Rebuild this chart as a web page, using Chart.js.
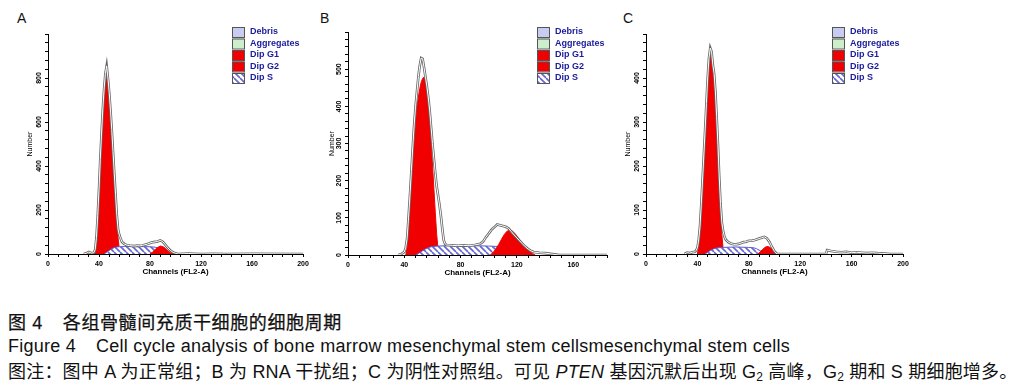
<!DOCTYPE html>
<html>
<head>
<meta charset="utf-8">
<script src="https://cdn.jsdelivr.net/npm/chart.js@4.4.1/dist/chart.umd.min.js"></script>
<style>
  body { margin: 0; background: #fff; width: 1020px; height: 391px; position: relative; overflow: hidden; font-family: "Liberation Sans", Arial, sans-serif; }
  canvas { position: absolute; top: 0; }
  .letter { position: absolute; top: 10px; font-size: 14px; line-height: 16px; color: #111; }
  .cap { position: absolute; left: 8px; font-size: 18px; line-height: 20px; white-space: nowrap; color: #111; font-family: "Liberation Sans", "Noto Sans CJK SC", sans-serif; }
  .gap { display: inline-block; width: 20px; }
  sub { font-size: 12px; vertical-align: -3px; line-height: 0; }
</style>
</head>
<body>
<div class="letter" style="left:17px">A</div>
<div class="letter" style="left:320px">B</div>
<div class="letter" style="left:623px">C</div>
<canvas id="chartA" width="320" height="290" style="left:0px"></canvas>
<canvas id="chartB" width="320" height="290" style="left:300px"></canvas>
<canvas id="chartC" width="320" height="290" style="left:600px"></canvas>
<div class="cap" style="top:313px; letter-spacing:0.6px; -webkit-text-stroke:0.25px #111">图 4<span class="gap"></span>各组骨髓间充质干细胞的细胞周期</div>
<div class="cap" style="top:336px; letter-spacing:0.25px">Figure 4<span class="gap"></span>Cell cycle analysis of bone marrow mesenchymal stem cellsmesenchymal stem cells</div>
<div class="cap" style="top:362px; letter-spacing:0.2px">图注：图中 A 为正常组；B 为 RNA 干扰组；C 为阴性对照组。可见 <i>PTEN</i> 基因沉默后出现 G<sub>2</sub> 高峰，G<sub>2</sub> 期和 S 期细胞增多。</div>
<script>
// Legend entries (ModFit style)
const legendLabels = ['Debris', 'Aggregates', 'Dip G1', 'Dip G2', 'Dip S'];
const legendFills = ['#c8ccf0', '#cdeecb', '#f00000', '#f00000', 'hatch'];

// Panel A: channel / count pairs
const aTotal = [[28,0],[30,3],[32,9],[34,4],[36,6],[37,20],[38,75],[39,175],[40,295],[41,430],[42,550],[43,660],[44,750],[45,820],[46,855],[47,800],[48,735],[49,655],[50,565],[51,465],[52,365],[53,270],[54,175],[55,110],[56,85],[57,70],[58,55],[60,45],[62,40],[64,38],[66,37],[68,36],[70,38],[72,37],[74,39],[76,42],[78,45],[80,50],[82,53],[84,55],[86,57],[88,62],[90,56],[92,42],[94,28],[96,16],[98,8],[100,3],[102,0],[110,2],[120,0],[130,1],[140,0],[160,1],[200,0]];
const aG1 = [[36,0],[37,20],[38,70],[39,170],[40,290],[41,420],[42,540],[43,650],[44,740],[45,810],[46,835],[47,790],[48,720],[49,640],[50,550],[51,450],[52,350],[53,250],[54,150],[55,70],[56,20],[57,0]];
const aS = [[44,0],[46,8],[48,16],[50,24],[52,29],[54,32],[56,33],[60,34],[70,34],[80,33],[84,31],[86,28],[88,22],[90,14],[92,6],[94,0]];
const aG2 = [[80,0],[82,8],[84,20],[86,30],[88,36],[90,34],[92,26],[94,15],[96,6],[98,2],[100,0]];

// Panel B
const bTotal = [[36,0],[38,3],[40,8],[41,20],[42,45],[43,100],[44,160],[45,225],[46,290],[47,350],[48,400],[49,440],[50,480],[51,510],[52,530],[53,528],[54,505],[55,480],[56,455],[57,425],[58,390],[59,345],[60,300],[61,260],[62,220],[63,185],[64,160],[65,135],[66,105],[67,70],[68,40],[69,30],[70,27],[74,26],[78,25],[82,26],[86,25],[90,27],[94,30],[96,36],[98,48],[100,58],[102,68],[104,75],[106,82],[108,80],[110,78],[112,76],[114,72],[116,63],[118,54],[120,46],[122,38],[124,30],[126,22],[128,16],[130,11],[132,8],[136,6],[140,5],[144,3],[148,1],[150,0],[184,0]];
const bG1 = [[41,0],[42,20],[43,70],[44,130],[45,195],[46,255],[47,310],[48,360],[49,400],[50,425],[51,448],[52,465],[53,475],[54,478],[55,468],[56,445],[57,410],[58,365],[59,305],[60,245],[61,180],[62,115],[63,55],[64,15],[65,0]];
const bS = [[48,0],[50,4],[52,9],[54,14],[56,18],[58,21],[60,23],[64,24],[70,25],[80,25],[90,25],[100,24],[106,23],[110,20],[114,14],[117,7],[120,0]];
const bG2 = [[101,0],[103,6],[105,16],[107,28],[109,42],[111,55],[113,64],[115,67],[117,64],[119,56],[121,46],[123,36],[125,27],[127,18],[129,10],[131,4],[133,0]];

// Panel C
const cTotal = [[30,0],[32,3],[34,2],[36,4],[38,5],[39,8],[40,14],[41,32],[42,62],[43,112],[44,168],[45,225],[46,282],[47,342],[48,400],[49,445],[50,468],[51,460],[52,430],[53,410],[54,370],[55,312],[56,248],[57,175],[58,115],[59,72],[60,52],[61,40],[62,33],[64,27],[66,24],[68,22],[70,22],[72,23],[74,25],[76,27],[78,28],[80,30],[82,30],[84,31],[86,33],[88,35],[90,37],[92,39],[94,36],[96,28],[98,16],[100,6],[102,0],[140,0],[141,9],[144,7],[148,5],[152,4],[156,5],[160,3],[164,4],[168,3],[172,2],[176,3],[180,2],[186,1],[190,0],[200,0]];
const cG1 = [[40,0],[41,18],[42,50],[43,100],[44,155],[45,210],[46,265],[47,325],[48,385],[49,430],[50,452],[51,448],[52,425],[53,400],[54,360],[55,300],[56,235],[57,160],[58,95],[59,45],[60,12],[61,0]];
const cS = [[46,0],[48,4],[50,8],[52,11],[54,13],[56,14],[60,15],[70,16],[80,15],[84,14],[86,12],[88,9],[90,5],[92,0]];
const cG2 = [[87,0],[89,5],[91,11],[93,16],[95,17],[97,14],[99,9],[101,3],[103,0]];

const RED = '#f00000';

function toXY(pts) {
    return pts.map(p => ({ x: p[0], y: p[1] }));
}

// Blue diagonal hatch used for the S phase
function makeHatch(ctx) {
    const c = document.createElement('canvas');
    c.width = 6; c.height = 6;
    const g = c.getContext('2d');
    g.fillStyle = '#fff';
    g.fillRect(0, 0, 6, 6);
    g.strokeStyle = '#6464d2';
    g.lineWidth = 1.6;
    [-6, 0, 6].forEach(k => {
        g.beginPath();
        g.moveTo(k, 0);
        g.lineTo(k + 6, 6);
        g.stroke();
    });
    return ctx.createPattern(c, 'repeat');
}

// Legend drawn inside the plot, top right
const legendPlugin = {
    id: 'flowLegend',
    afterDraw(chart, args, opts) {
        const ctx = chart.ctx;
        const hatch = makeHatch(ctx);
        ctx.save();
        ctx.font = 'bold 9px "Liberation Sans"';
        ctx.textBaseline = 'middle';
        legendLabels.forEach((lab, i) => {
            const y = opts.y + i * 11.5;
            ctx.fillStyle = legendFills[i] === 'hatch' ? hatch : legendFills[i];
            ctx.fillRect(opts.x, y - 5, 12, 10);
            ctx.strokeStyle = '#555';
            ctx.lineWidth = 1;
            ctx.strokeRect(opts.x + 0.5, y - 4.5, 12, 10);
            ctx.fillStyle = '#1a1a9a';
            ctx.fillText(lab, opts.x + 18, y);
        });
        ctx.restore();
    }
};

// Y tick labels are printed sideways
const yLabelPlugin = {
    id: 'yLabels',
    afterDraw(chart, args, opts) {
        const s = chart.scales.y, ctx = chart.ctx;
        ctx.save();
        ctx.font = 'bold 7px "Liberation Sans"';
        ctx.fillStyle = '#000';
        ctx.textAlign = 'center';
        ctx.textBaseline = 'bottom';
        s.ticks.forEach(t => {
            if (t.value % opts.major !== 0 || t.value >= s.max) return;
            ctx.save();
            ctx.translate(s.right - 5, s.getPixelForValue(t.value));
            ctx.rotate(-Math.PI / 2);
            ctx.fillText(String(t.value), 0, 0);
            ctx.restore();
        });
        ctx.restore();
    }
};

function makeChart(id, p) {
    const canvas = document.getElementById(id);
    const hatch = makeHatch(canvas.getContext('2d'));
    return new Chart(canvas, {
        type: 'line',
        data: {
            datasets: [
                { data: toXY(p.total), borderColor: '#fff', borderWidth: 1, fill: false },
                { data: toXY(p.total), borderColor: '#666', borderWidth: 2.6, fill: false },
                { data: toXY(p.g2), borderColor: RED, borderWidth: 1, backgroundColor: RED, fill: 'origin' },
                { data: toXY(p.s), borderColor: '#5b5bc8', borderWidth: 1, backgroundColor: hatch, fill: 'origin' },
                { data: toXY(p.g1), borderColor: RED, borderWidth: 1, backgroundColor: RED, fill: 'origin' }
            ]
        },
        options: {
            responsive: false,
            animation: false,
            events: [],
            elements: { point: { radius: 0 }, line: { tension: 0 } },
            layout: { padding: { left: p.padLeft, right: p.padRight, top: p.padTop, bottom: p.padBottom } },
            plugins: {
                legend: { display: false },
                tooltip: { enabled: false },
                flowLegend: { x: p.legendX, y: 32 },
                yLabels: { major: p.yMajor }
            },
            scales: {
                x: {
                    type: 'linear',
                    min: 0,
                    max: p.xMax,
                    afterFit: s => { s.height = 26; },
                    border: { color: '#000', width: 1 },
                    grid: { drawOnChartArea: false, tickLength: 3, color: '#000' },
                    ticks: {
                        stepSize: 8,
                        autoSkip: false,
                        maxRotation: 0,
                        padding: 3,
                        color: '#000',
                        font: { family: 'Liberation Sans', size: 7, weight: 'bold' },
                        callback: v => (v % 40 === 0 && v <= p.xLabelMax) ? String(v) : ''
                    },
                    title: {
                        display: true,
                        text: 'Channels (FL2-A)',
                        color: '#000',
                        padding: { top: 0, bottom: 3 },
                        font: { family: 'Liberation Sans', size: 8, weight: 'bold' }
                    }
                },
                y: {
                    min: 0,
                    max: p.yMax,
                    afterFit: s => { s.width = p.yWidth; },
                    border: { color: '#000', width: 1 },
                    grid: { drawOnChartArea: false, tickLength: 3, color: '#000' },
                    ticks: { display: false, stepSize: p.yMajor / 5, autoSkip: false },
                    title: {
                        display: true,
                        text: 'Number',
                        color: '#000',
                        padding: { top: 5, bottom: 0 },
                        font: { family: 'Liberation Sans', size: 7 }
                    }
                }
            }
        },
        plugins: [legendPlugin, yLabelPlugin]
    });
}

makeChart('chartA', { total: aTotal, g1: aG1, s: aS, g2: aG2, xMax: 200, xLabelMax: 200, yMax: 1000, yMajor: 200,
    padLeft: 21, yWidth: 27, padRight: 17, padTop: 34, padBottom: 10, legendX: 232 });
makeChart('chartB', { total: bTotal, g1: bG1, s: bS, g2: bG2, xMax: 184, xLabelMax: 160, yMax: 600, yMajor: 100,
    padLeft: 23, yWidth: 25, padRight: 13, padTop: 32, padBottom: 9, legendX: 237 });
makeChart('chartC', { total: cTotal, g1: cG1, s: cS, g2: cG2, xMax: 200, xLabelMax: 200, yMax: 500, yMajor: 100,
    padLeft: 19, yWidth: 27, padRight: 17, padTop: 34, padBottom: 10, legendX: 232 });
</script>
</body>
</html>
